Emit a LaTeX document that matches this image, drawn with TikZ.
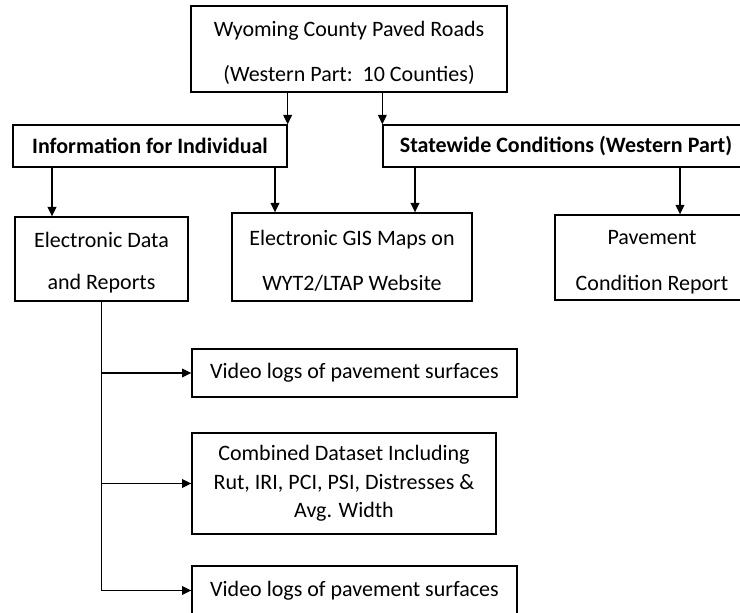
\documentclass[tikz,border=0pt]{standalone}
\usepackage{fontspec}
\setmainfont{Carlito}
\usetikzlibrary{arrows.meta}
\tikzstyle{box} = [draw, line width=1pt, inner sep=0pt, align=center, font=\fontsize{16.5}{21.5}\selectfont]
\tikzstyle{spaced} = [font=\fontsize{16.5}{34}\selectfont]
\tikzstyle{arrow} = [line width=1pt, -{Triangle[length=7pt, width=6.5pt]}]
% extra room above the first line of the spaced boxes
\newcommand{\toproom}{\rule{0pt}{17.5pt}}

\begin{document}
\begin{tikzpicture}[x=0.75pt, y=-0.75pt]
  \useasboundingbox (0,0) rectangle (740,613);

  % top box
  \node[box, spaced, minimum width=316*0.75pt, minimum height=86*0.75pt] (top) at (349,49)
    {\toproom Wyoming County Paved Roads\\(Western Part:\ \ 10 Counties)};

  % second row (bold headings)
  \node[box, font=\fontsize{16.5}{21.5}\selectfont\bfseries, minimum width=274*0.75pt, minimum height=42*0.75pt] (info) at (150,146)
    {Information for Individual};
  \node[box, font=\fontsize{16.5}{21.5}\selectfont\bfseries, minimum width=366*0.75pt, minimum height=42*0.75pt] (state) at (566,146)
    {Statewide Conditions (Western Part)};

  % third row
  \node[box, font=\fontsize{16.5}{31.5}\selectfont, minimum width=173*0.75pt, minimum height=84*0.75pt] (elec) at (101.5,259)
    {\toproom Electronic Data\\and Reports};
  \node[box, spaced, minimum width=240*0.75pt, minimum height=88*0.75pt] (gis) at (352,257)
    {\toproom Electronic GIS Maps on\\WYT2/LTAP Website};
  \node[box, spaced, minimum width=194*0.75pt, minimum height=85*0.75pt] (pave) at (652,257.5)
    {\toproom Pavement\\Condition Report};

  % outputs of the electronic data
  \node[box, minimum width=325*0.75pt, minimum height=48*0.75pt] (video1) at (354.5,373)
    {Video logs of pavement surfaces};
  \node[box, minimum width=304*0.75pt, minimum height=101*0.75pt] (combo) at (344,483.5)
    {Combined Dataset Including\\Rut, IRI, PCI, PSI, Distresses \&\\Avg. Width};
  \node[box, minimum width=325*0.75pt, minimum height=49*0.75pt] (video2) at (354.5,590.5)
    {Video logs of pavement surfaces};

  % x positions of the drop arrows
  \coordinate (xa) at (52,0);
  \coordinate (xb) at (275,0);
  \coordinate (xc) at (415,0);
  \coordinate (xd) at (680,0);

  \draw[arrow] (top.south -| info.east) -- (info.north east);
  \draw[arrow] (top.south -| state.west) -- (state.north west);

  \draw[arrow] (info.south -| xa) -- (elec.north -| xa);
  \draw[arrow] (info.south -| xb) -- (gis.north -| xb);
  \draw[arrow] (state.south -| xc) -- (gis.north -| xc);
  \draw[arrow] (state.south -| xd) -- (pave.north -| xd);

  % trunk with branches
  \draw[arrow] (elec.south) |- (video2.west);
  \draw[arrow] (elec.south |- video1.west) -- (video1.west);
  \draw[arrow] (elec.south |- combo.west) -- (combo.west);

\end{tikzpicture}
\end{document}
